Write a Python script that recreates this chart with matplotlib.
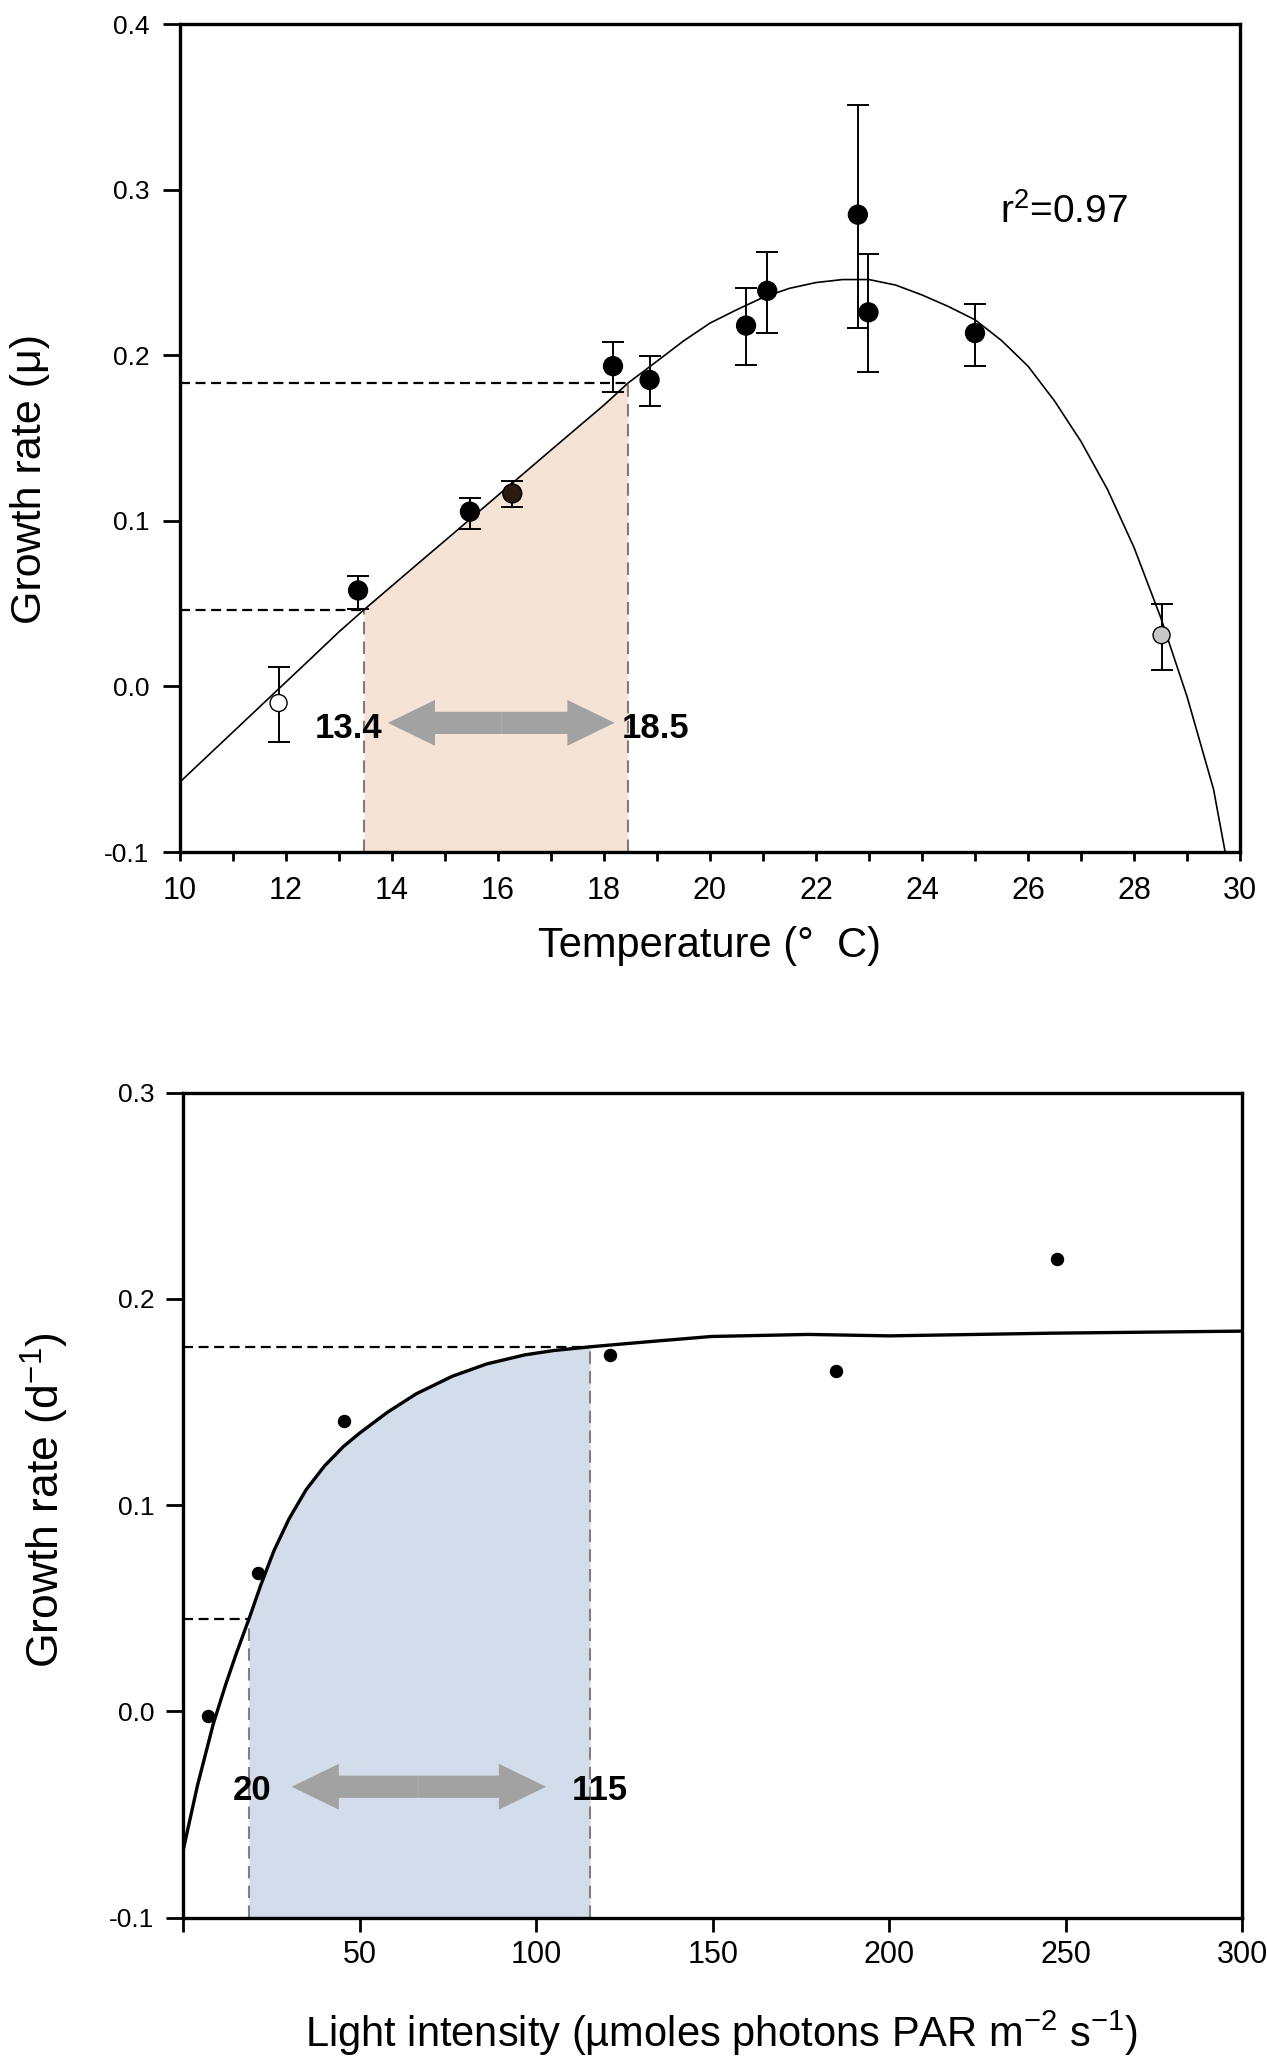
import matplotlib
matplotlib.use('Agg')
import matplotlib.pyplot as plt
import numpy as np
from matplotlib.patches import FancyArrowPatch
from matplotlib.ticker import MultipleLocator, FixedLocator, FixedFormatter, FormatStrFormatter

# ---------------- data ----------------
# Top panel: growth rate vs temperature
temp_pts = [11.86, 13.36, 15.47, 16.27, 18.17, 18.86, 20.68, 21.08, 22.79, 22.99, 25.00, 28.52]
mu_pts = [-0.010, 0.058, 0.1056, 0.1166, 0.1935, 0.1852, 0.218, 0.239, 0.285, 0.226, 0.2135, 0.031]
mu_err_lo = [-0.0337, 0.0469, 0.0953, 0.1087, 0.1776, 0.1695, 0.194, 0.2135, 0.2167, 0.190, 0.1935, 0.010]
mu_err_hi = [0.012, 0.067, 0.114, 0.1239, 0.208, 0.1995, 0.2405, 0.2625, 0.3515, 0.2613, 0.231, 0.050]
pt_colors = ['white', 'black', 'black', '#2b1a0e', 'black', 'black', 'black', 'black',
             'black', 'black', 'black', '#c8c8c8']

temp_curve = [10.0, 10.5, 11.0, 11.5, 12.0, 12.5, 13.0, 13.47, 14.0, 14.5, 15.0, 15.5, 16.0,
              16.5, 17.0, 17.5, 18.0, 18.45, 19.0, 19.5, 20.0, 20.5, 21.0, 21.5, 22.0, 22.5,
              23.0, 23.5, 24.0, 24.5, 25.0, 25.5, 26.0, 26.5, 27.0, 27.5, 28.0, 28.5, 29.0,
              29.5, 29.72]
mu_curve = [-0.0577, -0.0426, -0.0275, -0.0124, 0.0027, 0.0178, 0.0330, 0.0463, 0.0608,
            0.0745, 0.0881, 0.1018, 0.1155, 0.1291, 0.1428, 0.1564, 0.1700, 0.1832, 0.1965,
            0.2087, 0.2195, 0.2275, 0.2350, 0.2405, 0.2440, 0.2458, 0.2458, 0.2425, 0.2365,
            0.2295, 0.2215, 0.2090, 0.1935, 0.1725, 0.1480, 0.1190, 0.0840, 0.0420, -0.0060,
            -0.0620, -0.1000]
temp_range = [13.47, 18.45]
temp_range_mu = [0.0463, 0.1832]
temp_labels = ['13.4', '18.5']

# Bottom panel: growth rate vs light intensity
light_pts = [7.1, 21.3, 45.4, 121.0, 185.0, 247.7]
rate_pts = [-0.0023, 0.0672, 0.1408, 0.1729, 0.1652, 0.2196]
light_curve = [0, 4, 8.5, 12, 15, 18.6, 22, 25.7, 30, 34.8, 40, 45.4, 50, 57.8, 66, 76.2,
               86, 96.8, 105, 115.3, 130, 149.6, 177, 200, 246, 300]
rate_curve = [-0.067, -0.036, -0.006, 0.013, 0.028, 0.0448, 0.0615, 0.0780, 0.0935,
              0.1075, 0.1190, 0.1285, 0.1350, 0.1450, 0.1540, 0.1625, 0.1685, 0.1729,
              0.1750, 0.1768, 0.1790, 0.1818, 0.1828, 0.1821, 0.1834, 0.1844]
light_range = [18.6, 115.3]
light_range_rate = [0.0448, 0.1768]
light_labels = ['20', '115']

temp_yticks = [-0.1, 0.0, 0.1, 0.2, 0.3, 0.4]
light_yticks = [-0.1, 0.0, 0.1, 0.2, 0.3]
light_xticks = [0, 50, 100, 150, 200, 250, 300]
light_xticklabels = ['', '50', '100', '150', '200', '250', '300']

# ---------------- style ----------------
plt.rcParams['font.family'] = ['Liberation Sans', 'DejaVu Sans']
plt.rcParams['axes.unicode_minus'] = False
plt.rcParams['mathtext.fontset'] = 'custom'
plt.rcParams['mathtext.rm'] = 'Liberation Sans'
plt.rcParams['mathtext.it'] = 'Liberation Sans:italic'
plt.rcParams['mathtext.bf'] = 'Liberation Sans:bold'

W, H = 1267, 2067
fig = plt.figure(figsize=(W / 100, H / 100), dpi=100)
ax1 = fig.add_axes([180 / W, 1 - 852 / H, 1060 / W, 827.7 / H])
ax2 = fig.add_axes([183.3 / W, 1 - 1917.7 / H, 1058.7 / W, 825 / H])

ARROW_COLOR = '#a2a2a2'


def double_arrow(ax, x0, x1, y):
    xm = (x0 + x1) / 2
    for xe in (x0, x1):
        ax.add_patch(FancyArrowPatch((xm, y), (xe, y),
                                     arrowstyle='simple,head_length=34,head_width=33,tail_width=16',
                                     mutation_scale=1, color=ARROW_COLOR, lw=0,
                                     shrinkA=0, shrinkB=0, zorder=3))


# ---------------- top panel ----------------
tc = np.array(temp_curve)
mc = np.array(mu_curve)
mask = (tc >= temp_range[0]) & (tc <= temp_range[1])
ax1.fill_between(tc[mask], -0.1, mc[mask], color='#f5e3d5', lw=0, zorder=1)
ax1.vlines(temp_range, -0.1, temp_range_mu, colors='#857a72', linestyles=(0, (6, 3.5)),
           lw=1.5, zorder=2)
ax1.hlines(temp_range_mu, 10, temp_range, colors='black', linestyles=(0, (4.5, 2.5)),
           lw=1.6, zorder=2)
ax1.plot(tc, mc, color='black', lw=1.2, zorder=4)

mp = np.array(mu_pts)
ax1.errorbar(temp_pts, mu_pts, yerr=[mp - np.array(mu_err_lo), np.array(mu_err_hi) - mp],
             fmt='none', ecolor='black', elinewidth=1.4, capsize=8, capthick=1.4, zorder=5)
sizes = [150 if c in ('white', '#c8c8c8') else 185 for c in pt_colors]
ax1.scatter(temp_pts, mu_pts, s=sizes, c=pt_colors, edgecolors='black', linewidths=1.0,
            zorder=6)

double_arrow(ax1, 13.92, 18.2, -0.022)
ax1.text(13.81, -0.031, temp_labels[0], ha='right', va='baseline', fontsize=25,
         fontweight='bold')
ax1.text(18.34, -0.031, temp_labels[1], ha='left', va='baseline', fontsize=25,
         fontweight='bold')
ax1.text(25.47, 0.28, r'r$^{\mathregular{2}}$=0.97', ha='left', va='baseline', fontsize=28,
         family=['Liberation Sans Narrow', 'Liberation Sans'])

ax1.set_xlim(10, 30)
ax1.set_ylim(-0.1, 0.4)
ax1.xaxis.set_major_locator(MultipleLocator(2))
ax1.xaxis.set_minor_locator(MultipleLocator(1))
ax1.yaxis.set_major_locator(FixedLocator(temp_yticks))
ax1.yaxis.set_major_formatter(FormatStrFormatter('%.1f'))
ax1.tick_params(axis='x', which='both', direction='out', length=6.5, width=2,
                labelsize=22, pad=11)
ax1.tick_params(axis='y', which='both', direction='out', length=12.3, width=2,
                labelsize=19, pad=9.6)
for lab in ax1.get_xticklabels():
    lab.set_family(['Liberation Sans Narrow', 'Liberation Sans'])
for sp in ax1.spines.values():
    sp.set_linewidth(2.4)
ax1.set_xlabel('Temperature (°  C)', fontsize=30)
ax1.xaxis.set_label_coords(0.5, -0.1269)
ax1.xaxis.label.set_va('baseline')
ax1.set_ylabel('Growth rate (μ)', fontsize=31)
ax1.yaxis.set_label_coords(-0.1311, 0.4507)
ax1.yaxis.label.set_va('baseline')

# ---------------- bottom panel ----------------
lc = np.array(light_curve)
rc = np.array(rate_curve)
mask2 = (lc >= light_range[0]) & (lc <= light_range[1])
ax2.fill_between(lc[mask2], -0.1, rc[mask2], color='#d3dcea', lw=0, zorder=1)
ax2.vlines(light_range, -0.1, light_range_rate, colors='#808080', linestyles=(0, (6, 3.5)),
           lw=1.5, zorder=2)
ax2.hlines(light_range_rate, 0, light_range, colors='black', linestyles=(0, (4.5, 2.5)),
           lw=1.6, zorder=2)
ax2.plot(lc, rc, color='black', lw=2.4, zorder=4, solid_joinstyle='round')
ax2.scatter(light_pts, rate_pts, s=75, c='black', zorder=6)

double_arrow(ax2, 30.7, 102.8, -0.0365)
ax2.text(25.05, -0.0429, light_labels[0], ha='right', va='baseline', fontsize=25,
         fontweight='bold')
ax2.text(110.1, -0.0429, light_labels[1], ha='left', va='baseline', fontsize=25,
         fontweight='bold')

ax2.set_xlim(0, 300)
ax2.set_ylim(-0.1, 0.3)
ax2.xaxis.set_major_locator(FixedLocator(light_xticks))
ax2.xaxis.set_major_formatter(FixedFormatter(light_xticklabels))
ax2.yaxis.set_major_locator(FixedLocator(light_yticks))
ax2.yaxis.set_major_formatter(FormatStrFormatter('%.1f'))
ax2.tick_params(axis='x', direction='out', length=10, width=2, labelsize=22, pad=6)
ax2.tick_params(axis='y', direction='out', length=12.3, width=2, labelsize=19, pad=8.4)
for sp in ax2.spines.values():
    sp.set_linewidth(2.4)
ax2.set_xlabel(r'Light intensity (µmoles photons PAR m$^{\mathregular{-2}}$ s$^{\mathregular{-1}}$)',
               fontsize=30)
ax2.xaxis.set_label_coords(0.5088, -0.1564)
ax2.xaxis.label.set_va('baseline')
ax2.set_ylabel(r'Growth rate (d$^{\mathregular{-1}}$)', fontsize=32)
ax2.yaxis.set_label_coords(-0.1165, 0.5063)
ax2.yaxis.label.set_va('baseline')

fig.savefig('out.png', dpi=100)
